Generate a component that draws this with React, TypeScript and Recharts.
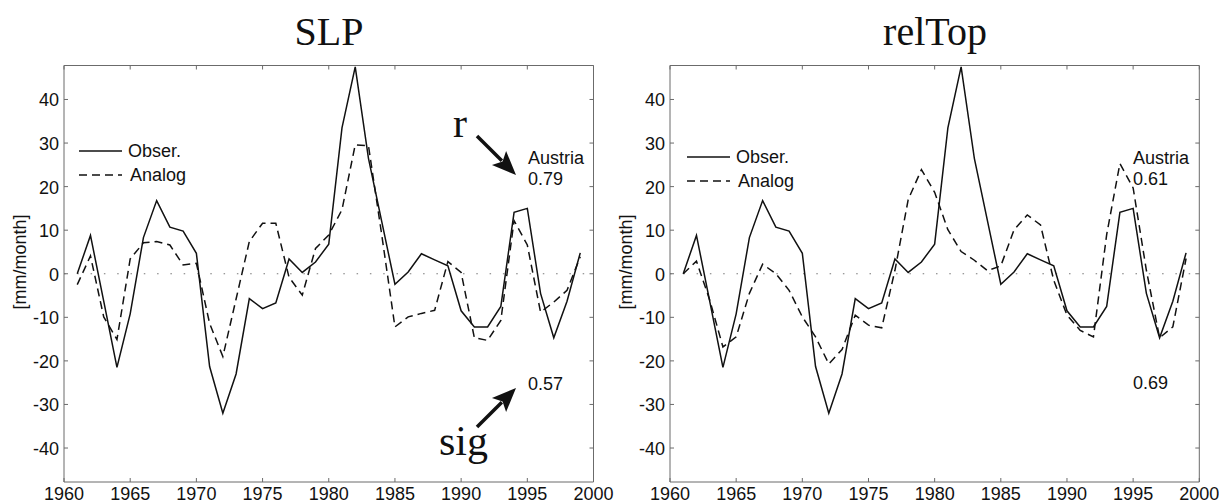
import { LineChart, Line, XAxis, YAxis, ReferenceLine, Legend } from 'recharts';

// yearly values, mm/month
const years = [
  1961, 1962, 1963, 1964, 1965, 1966, 1967, 1968, 1969, 1970,
  1971, 1972, 1973, 1974, 1975, 1976, 1977, 1978, 1979, 1980,
  1981, 1982, 1983, 1984, 1985, 1986, 1987, 1988, 1989, 1990,
  1991, 1992, 1993, 1994, 1995, 1996, 1997, 1998, 1999,
];
const observed = [
  0, 8.8, -6.3, -21.5, -9.2, 8.3, 16.8, 10.7, 9.8, 4.7,
  -21.3, -32, -23, -5.7, -8, -6.7, 3.4, 0.3, 2.7, 6.8,
  33.5, 47.5, 26.5, 12, -2.4, 0.4, 4.6, 3.2, 1.8, -8.5,
  -12.2, -12.2, -7.5, 14.1, 15, -4.5, -14.7, -6.3, 4.8,
];
const analogSLP = [
  -2.5, 4.1, -9.9, -15.1, 3.4, 7.1, 7.4, 6.6, 2.0, 2.4,
  -11.4, -19, -5.8, 7.4, 11.6, 11.6, -0.8, -4.9, 5.8, 8.9,
  14.7, 29.6, 29.4, 9, -12.2, -9.9, -9.1, -8.4, 2.8, 0.3,
  -14.7, -15.3, -10.7, 12.2, 6.6, -8.8, -6.5, -3.8, 3.9,
];
const analogRelTop = [
  0, 2.9, -6, -16.8, -14.5, -4.5, 2.2, 0, -3.8, -9.9,
  -14.5, -20.7, -17.4, -9.5, -11.8, -12.4, 0.8, 17, 23.9, 18.7,
  10.1, 5.1, 3.1, 0.7, 1.8, 10.1, 13.5, 11.2, -1.5, -9.5,
  -13, -14.5, 9, 25.3, 19.7, 0.8, -14.7, -12.2, 3.5,
];
const xTicks = [1960, 1965, 1970, 1975, 1980, 1985, 1990, 1995, 2000];
const yTicks = [-40, -30, -20, -10, 0, 10, 20, 30, 40];

const rows = years.map((year, i) => ({
  year,
  obs: observed[i],
  slp: analogSLP[i],
  relTop: analogRelTop[i],
}));

const AXIS = '#6b6b6b';
const INK = '#111';
const SANS = '"Liberation Sans", Arial, Helvetica, sans-serif';
const SERIF = '"Liberation Serif", "Times New Roman", serif';
const DASH = '8 5';
const FS = 18;

// matlab style: ticks point into the box, labels outside
const makeTick = (side: 'bottom' | 'top' | 'left' | 'right') => (props: any) => {
  const { x, y, payload } = props;
  if (side === 'bottom') {
    return (
      <g>
        <line x1={x} x2={x} y1={y} y2={y - 4} stroke={AXIS} />
        <text x={x} y={y + 17.5} textAnchor="middle" fontSize={FS} fontFamily={SANS} fill={INK}>
          {payload.value}
        </text>
      </g>
    );
  }
  if (side === 'top') return <line x1={x} x2={x} y1={y} y2={y + 4} stroke={AXIS} />;
  if (side === 'left') {
    return (
      <g>
        <line x1={x} x2={x + 4} y1={y} y2={y} stroke={AXIS} />
        <text x={x - 5} y={y + 7} textAnchor="end" fontSize={FS} fontFamily={SANS} fill={INK}>
          {payload.value}
        </text>
      </g>
    );
  }
  return <line x1={x} x2={x - 4} y1={y} y2={y} stroke={AXIS} />;
};

const LegendBox = () => (
  <svg width={130} height={50} style={{ display: 'block' }}>
    <line x1={0} x2={43} y1={12} y2={12} stroke={INK} strokeWidth={1.5} />
    <text x={49} y={18} fontSize={FS} fontFamily={SANS} fill={INK}>Obser.</text>
    <line x1={0} x2={43} y1={36} y2={36} stroke={INK} strokeWidth={1.5} strokeDasharray={DASH} />
    <text x={51} y={42} fontSize={FS} fontFamily={SANS} fill={INK}>Analog</text>
  </svg>
);

interface PanelProps {
  analogKey: 'slp' | 'relTop';
  left: number;
  width: number;
  rightMargin: number;
  legendLeft: number;
  legendTop: number;
}

function Panel({ analogKey, left, width, rightMargin, legendLeft, legendTop }: PanelProps) {
  return (
    <div style={{ position: 'absolute', left, top: 0 }}>
      <LineChart
        width={width}
        height={502}
        data={rows}
        margin={{ top: 64.5, right: rightMargin, bottom: 0, left: 0 }}
      >
        <XAxis
          xAxisId="b"
          dataKey="year"
          type="number"
          domain={[1960, 2000]}
          ticks={xTicks}
          height={20}
          tickSize={0}
          tickMargin={0}
          stroke={AXIS}
          tick={makeTick('bottom')}
          interval={0}
        />
        <XAxis
          xAxisId="t"
          dataKey="year"
          type="number"
          orientation="top"
          domain={[1960, 2000]}
          ticks={xTicks}
          height={1}
          tickSize={0}
          tickMargin={0}
          stroke={AXIS}
          tick={makeTick('top')}
          interval={0}
        />
        <YAxis
          yAxisId="l"
          type="number"
          domain={[-47.8, 47.8]}
          allowDataOverflow
          ticks={yTicks}
          width={64}
          tickSize={0}
          tickMargin={0}
          stroke={AXIS}
          tick={makeTick('left')}
          interval={0}
        />
        <YAxis
          yAxisId="r"
          type="number"
          orientation="right"
          domain={[-47.8, 47.8]}
          allowDataOverflow
          ticks={yTicks}
          width={1}
          tickSize={0}
          tickMargin={0}
          stroke={AXIS}
          tick={makeTick('right')}
          interval={0}
        />
        <ReferenceLine xAxisId="b" yAxisId="l" y={0} stroke="#777" strokeDasharray="1.5 11.8" />
        <Line
          xAxisId="b"
          yAxisId="l"
          type="linear"
          dataKey="obs"
          stroke={INK}
          strokeWidth={1.5}
          dot={false}
          isAnimationActive={false}
        />
        <Line
          xAxisId="b"
          yAxisId="l"
          type="linear"
          dataKey={analogKey}
          stroke={INK}
          strokeWidth={1.5}
          strokeDasharray={DASH}
          dot={false}
          isAnimationActive={false}
        />
        <Legend
          layout="horizontal"
          verticalAlign="middle"
          align="center"
          content={() => <LegendBox />}
          wrapperStyle={{ left: legendLeft, top: legendTop, width: 130 }}
        />
      </LineChart>
    </div>
  );
}

const Arrow = ({ x1, y1, x2, y2 }: { x1: number; y1: number; x2: number; y2: number }) => {
  const len = Math.hypot(x2 - x1, y2 - y1);
  const ux = (x2 - x1) / len;
  const uy = (y2 - y1) / len;
  const bx = x2 - ux * 24;
  const by = y2 - uy * 24;
  const pts = `${x2},${y2} ${bx - uy * 10},${by + ux * 10} ${bx + ux * 5},${by + uy * 5} ${bx + uy * 10},${by - ux * 10}`;
  return (
    <g>
      <line x1={x1} y1={y1} x2={bx + ux * 4} y2={by + uy * 4} stroke={INK} strokeWidth={3.5} />
      <polygon points={pts} fill={INK} />
    </g>
  );
};

export default function App() {
  const sans = { fontFamily: SANS, fontSize: FS, fill: INK };
  return (
    <div style={{ position: 'relative', width: 1219, height: 502, background: '#fff' }}>
      <style>{'body{margin:0;}'}</style>
      <Panel analogKey="relTop" left={606} width={613} rightMargin={18.7} legendLeft={81} legendTop={145} />
      <Panel analogKey="slp" left={0} width={630} rightMargin={35.5} legendLeft={79} legendTop={139} />
      <svg
        width={1219}
        height={502}
        style={{ position: 'absolute', left: 0, top: 0, pointerEvents: 'none' }}
      >
        <text x={329} y={45} textAnchor="middle" fontFamily={SERIF} fontSize={40} fill={INK}>SLP</text>
        <text x={935} y={45} textAnchor="middle" fontFamily={SERIF} fontSize={40} fill={INK}>relTop</text>

        <text transform="translate(20,262) rotate(-90)" textAnchor="middle" dominantBaseline="central" {...sans}>
          [mm/month]
        </text>
        <text transform="translate(626,262) rotate(-90)" textAnchor="middle" dominantBaseline="central" {...sans}>
          [mm/month]
        </text>

        <text x={528} y={164} {...sans}>Austria</text>
        <text x={528} y={185} {...sans}>0.79</text>
        <text x={528} y={390} {...sans}>0.57</text>
        <text x={453} y={137} fontFamily={SERIF} fontSize={42} fill={INK}>r</text>
        <text x={439} y={455} fontFamily={SERIF} fontSize={42} fill={INK}>sig</text>
        <Arrow x1={477} y1={136} x2={516} y2={175} />
        <Arrow x1={477} y1={427} x2={516} y2={388} />

        <text x={1133} y={164} {...sans}>Austria</text>
        <text x={1133} y={185} {...sans}>0.61</text>
        <text x={1133} y={389} {...sans}>0.69</text>
      </svg>
    </div>
  );
}
